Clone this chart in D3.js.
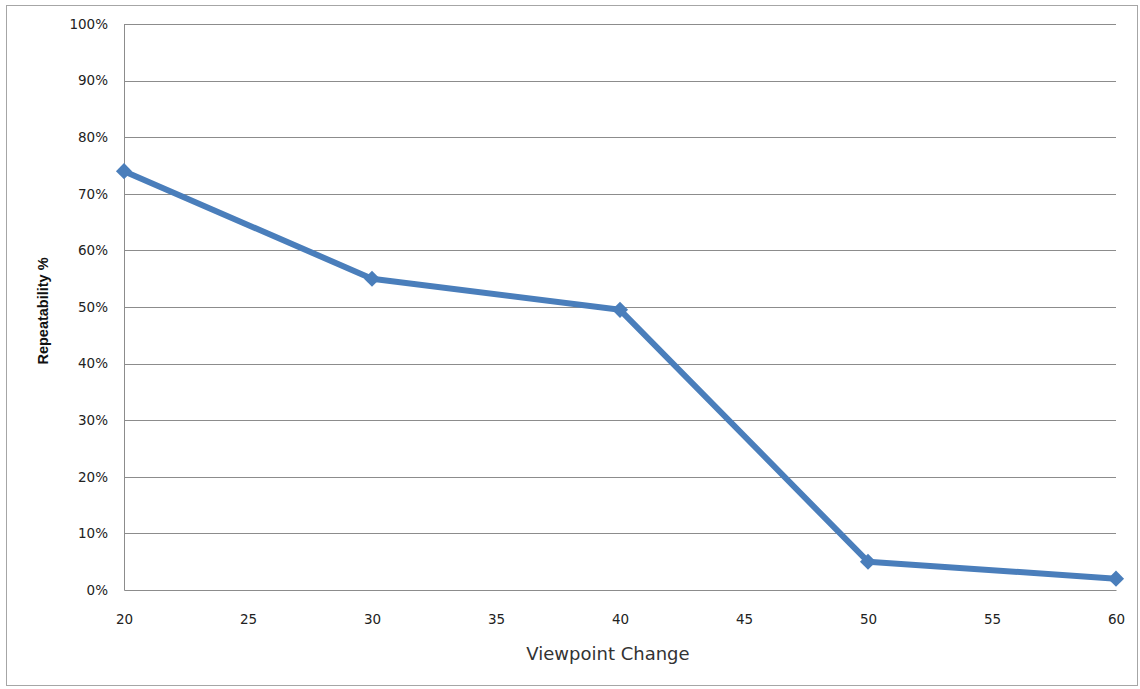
<!DOCTYPE html>
<html>
<head>
<meta charset="utf-8">
<script src="https://cdn.jsdelivr.net/npm/d3@7"></script>
<style>
  body { margin: 0; background: #fff; }
  svg { display: block; }
  .tick text { font-family: "DejaVu Sans", Verdana, sans-serif; font-size: 13.5px; fill: #222; }
</style>
</head>
<body>
<svg id="chart" width="1140" height="689"></svg>
<script>
// chart values
var viewpoints = [20, 30, 40, 50, 60];
var repeatability = [0.74, 0.55, 0.495, 0.05, 0.02];
var xTicks = [20, 25, 30, 35, 40, 45, 50, 55, 60];
var yTicks = [0, 0.1, 0.2, 0.3, 0.4, 0.5, 0.6, 0.7, 0.8, 0.9, 1];

var
  svg = d3.select('#chart'),
  margin = {top: 24, right: 24, bottom: 99, left: 124},
  width = 1140 - margin.left - margin.right,
  height = 689 - margin.top - margin.bottom,
  points = viewpoints.map(function(v, i){ return {x: v, y: repeatability[i]}; })
  ;

// outer frame
svg.append('rect')
  .attr('x', 6.5).attr('y', 5.5)
  .attr('width', 1131).attr('height', 680)
  .attr('fill', '#fff')
  .attr('stroke', '#a6a6a6');

var xScale = d3.scaleLinear().domain([20, 60]).range([0, width]);
var yScale = d3.scaleLinear().domain([0, 1]).range([height, 0]);

var g = svg.append('g')
  .attr('transform', 'translate(' + margin.left + ',' + margin.top + ')');

// horizontal gridlines
g.append('g')
  .selectAll('line')
  .data(yTicks.slice(1))
  .enter().append('line')
  .attr('x1', 0).attr('x2', width)
  .attr('y1', function(d){ return Math.round(yScale(d)) + 0.5; })
  .attr('y2', function(d){ return Math.round(yScale(d)) + 0.5; })
  .attr('stroke', '#8c8c8c');

// y axis
var yAxis = g.append('g')
  .call(d3.axisLeft(yScale).tickValues(yTicks).tickFormat(d3.format('.0%')).tickSize(0).tickPadding(16));
yAxis.select('.domain').attr('stroke', '#8c8c8c');

// x axis
var xAxis = g.append('g')
  .attr('transform', 'translate(0,' + height + ')')
  .call(d3.axisBottom(xScale).tickValues(xTicks).tickSize(0).tickPadding(24));
xAxis.select('.domain').attr('stroke', '#8c8c8c');

// axis titles
svg.append('text')
  .attr('x', 608)
  .attr('y', 660)
  .attr('text-anchor', 'middle')
  .style('font-family', '"DejaVu Sans", Verdana, sans-serif')
  .style('font-size', '18px')
  .style('fill', '#333')
  .text('Viewpoint Change');

svg.append('text')
  .attr('transform', 'translate(48,' + 311 + ') rotate(-90)')
  .attr('text-anchor', 'middle')
  .style('font-family', '"Liberation Sans", Arial, sans-serif')
  .style('font-size', '14.5px')
  .style('font-weight', 'bold')
  .style('fill', '#111')
  .text('Repeatability %');

// series line
var line = d3.line()
  .x(function(d){ return xScale(d.x); })
  .y(function(d){ return yScale(d.y); });

g.append('path')
  .datum(points)
  .attr('d', line)
  .attr('fill', 'none')
  .attr('stroke', '#4a7ebb')
  .attr('stroke-width', 6)
  .attr('stroke-linejoin', 'round');

// diamond markers: squares turned 45 degrees
g.selectAll('path.marker')
  .data(points)
  .enter().append('path')
  .attr('class', 'marker')
  .attr('d', d3.symbol().type(d3.symbolSquare).size(130))
  .attr('transform', function(d){ return 'translate(' + xScale(d.x) + ',' + yScale(d.y) + ') rotate(45)'; })
  .attr('fill', '#4a7ebb');
</script>
</body>
</html>
